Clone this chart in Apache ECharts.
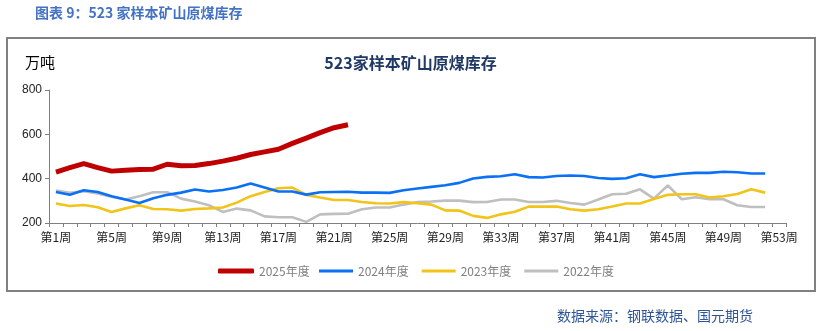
<!DOCTYPE html>
<html>
<head>
<meta charset="utf-8">
<script src="https://cdn.jsdelivr.net/npm/echarts@6/dist/echarts.min.js"></script>
<style>
html,body{margin:0;padding:0;background:#fff;}
#c{width:821px;height:331px;}
</style>
</head>
<body>
<div id="c"></div>
<script>
const categories = ['第1周','第2周','第3周','第4周','第5周','第6周','第7周','第8周','第9周','第10周',
'第11周','第12周','第13周','第14周','第15周','第16周','第17周','第18周','第19周','第20周',
'第21周','第22周','第23周','第24周','第25周','第26周','第27周','第28周','第29周','第30周',
'第31周','第32周','第33周','第34周','第35周','第36周','第37周','第38周','第39周','第40周',
'第41周','第42周','第43周','第44周','第45周','第46周','第47周','第48周','第49周','第50周',
'第51周','第52周','第53周'];
const seriesNames = ['2025年度','2024年度','2023年度','2022年度'];
const y2025 = [430,450,468,450,434,438,441,443,465,458,459,468,479,492,509,521,533,559,583,608,630,643];
const y2024 = [340,327,348,340,321,306,290,312,327,337,351,342,349,360,378,360,342,342,328,339,
340,341,337,337,336,348,356,363,370,381,401,408,411,420,407,405,412,414,412,403,
399,402,420,407,414,422,426,426,431,429,423,423];
const y2023 = [288,277,281,271,250,266,280,263,262,256,263,266,270,292,321,340,357,360,327,315,
304,304,295,289,288,294,289,283,257,256,232,223,239,251,274,274,274,262,256,262,
274,288,288,308,327,330,330,315,321,331,352,337];
const y2022 = [346,336,343,333,318,306,321,339,339,310,297,280,250,265,257,230,226,226,205,239,
241,242,262,270,270,283,295,297,301,301,294,295,306,306,295,295,300,290,283,306,
330,332,352,310,370,307,316,307,307,280,272,272];
const yTicks = {min:200, max:800, step:200};

const chart = echarts.init(document.getElementById('c'));
const colors = ['#C00000','#0A70F5','#F2C318','#BFBFBF'];
const widths = [5,2.6,2.6,2.6];
const datasets = [y2025,y2024,y2023,y2022];
const legendText = {color:'#7F7F7F',fontSize:12,fontFamily:'Noto Sans CJK SC'};
chart.setOption({
  animation:false,
  title:{text:'523家样本矿山原煤库存',left:'center',top:50,
    textStyle:{fontFamily:'Noto Sans CJK SC',fontSize:16,fontWeight:'bold',color:'#1F3864'}},
  grid:{left:49,right:35,top:90,bottom:108,containLabel:false},
  legend:[
    {top:260,left:213,itemWidth:36,itemHeight:5,icon:'roundRect',
      textStyle:legendText,data:[seriesNames[0]]},
    {top:260,left:314,itemWidth:34,itemHeight:3,itemGap:13,icon:'rect',
      textStyle:legendText,data:seriesNames.slice(1)}
  ],
  xAxis:{type:'category',data:categories,boundaryGap:true,
    axisLine:{lineStyle:{color:'#808080',width:1}},
    axisTick:{show:true,interval:0,length:4,lineStyle:{color:'#808080'}},
    axisLabel:{interval:3,color:'#222',fontSize:12,margin:8,fontFamily:'Noto Sans CJK SC'},
    splitLine:{show:false}},
  yAxis:{type:'value',min:yTicks.min,max:yTicks.max,interval:yTicks.step,
    axisLine:{show:true,lineStyle:{color:'#808080'}},
    axisTick:{show:true,length:4,lineStyle:{color:'#808080'}},
    axisLabel:{color:'#222',fontSize:12,margin:7,fontFamily:'Liberation Sans'},
    splitLine:{show:false}},
  series: seriesNames.map((n,i)=>({
    name:n,type:'line',data:datasets[i],symbol:'none',showSymbol:false,smooth:false,
    lineStyle:{color:colors[i],width:widths[i]},itemStyle:{color:colors[i]},
    z:10-i
  })),
  graphic:[
    {type:'rect',shape:{x:7,y:38,width:808,height:253},
      style:{fill:'none',stroke:'#808080',lineWidth:2},silent:true},
    {type:'text',left:35,top:6,style:{text:'图表 9：523 家样本矿山原煤库存',
      font:'bold 14px "Noto Sans CJK SC"',fill:'#4472C4'}},
    {type:'text',left:25,top:55,style:{text:'万吨',font:'15px "Noto Sans CJK SC"',fill:'#000'}},
    {type:'text',left:557,top:309,style:{text:'数据来源：钢联数据、国元期货',
      font:'14px "Noto Sans CJK SC"',fill:'#2E5597'}}
  ]
});
</script>
</body>
</html>
